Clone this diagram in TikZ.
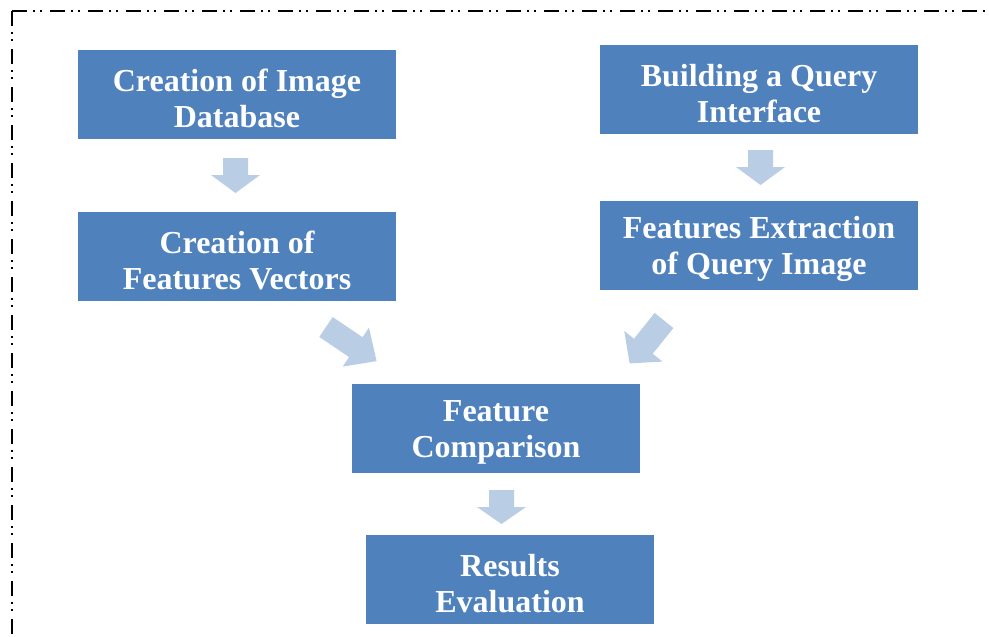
\documentclass[tikz,border=0pt]{standalone}
\usepackage{fontspec}
\setmainfont{Liberation Serif}
\definecolor{boxblue}{HTML}{4F81BD}
\definecolor{arrowblue}{HTML}{B9CDE5}
\newcommand\blockarrowpath[4]{% length, shaft half width, head half width, head length
  \fill[arrowblue] (0,-#2) -- ({#1-#4},-#2) -- ({#1-#4},-#3) -- (#1,0) -- ({#1-#4},#3) -- ({#1-#4},#2) -- (0,#2) -- cycle;}
\begin{document}
\begin{tikzpicture}[x=1pt,y=-1pt,
  stepbox/.style={fill=boxblue, draw=none, minimum width=318pt, minimum height=89pt, inner sep=0pt},
  smallbox/.style={stepbox, minimum width=288pt},
  boxtext/.style={text=white, font=\bfseries\fontsize{32}{36.5}\selectfont, align=center, inner sep=0pt, yshift=-4pt},
  borderline/.style={line width=2pt, dash pattern=on 15pt off 6pt on 2pt off 5pt on 2pt off 8pt}]
\useasboundingbox (0,0) rectangle (989,637);
% border
\coordinate (c0) at (12,11);
\coordinate (c1) at (989,11);
\coordinate (c2) at (12,637);
\draw[borderline] (c0) -- (c1);
\draw[borderline] (c0) -- (c2);
% boxes
\node[stepbox, label={[boxtext]center:Creation of Image\\Database}] (b1) at (237,94.5) {};
\node[stepbox, label={[boxtext]center:Creation of\\Features Vectors}] (b2) at (237,256.5) {};
\node[stepbox, label={[boxtext]center:Building a Query\\Interface}] (b3) at (759,89.5) {};
\node[stepbox, label={[boxtext]center:Features Extraction\\of Query Image}] (b4) at (759,245) {};
\node[smallbox, label={[boxtext]center:Feature\\Comparison}] (b5) at (496,428.5) {};
\node[smallbox, label={[boxtext]center:Results\\Evaluation}] (b6) at (510,579.5) {};
% block arrows
\coordinate (a1) at (235.5,158);
\coordinate (a2) at (760.5,150);
\coordinate (a3) at (326,327);
\coordinate (a4) at (664,320.5);
\coordinate (a5) at (501.5,490);
\begin{scope}[shift={(a1)}, rotate=-90]\blockarrowpath{35}{12.5}{24.5}{18}\end{scope}
\begin{scope}[shift={(a2)}, rotate=-90]\blockarrowpath{35}{12.5}{24.5}{18}\end{scope}
\begin{scope}[shift={(a5)}, rotate=-90]\blockarrowpath{34}{12.5}{24.5}{17}\end{scope}
\begin{scope}[shift={(a3)}, rotate=-34]\blockarrowpath{61}{12}{23.5}{25}\end{scope}
\begin{scope}[shift={(a4)}, rotate=-128.7]\blockarrowpath{55}{12}{24.5}{22}\end{scope}
\end{tikzpicture}
\end{document}
